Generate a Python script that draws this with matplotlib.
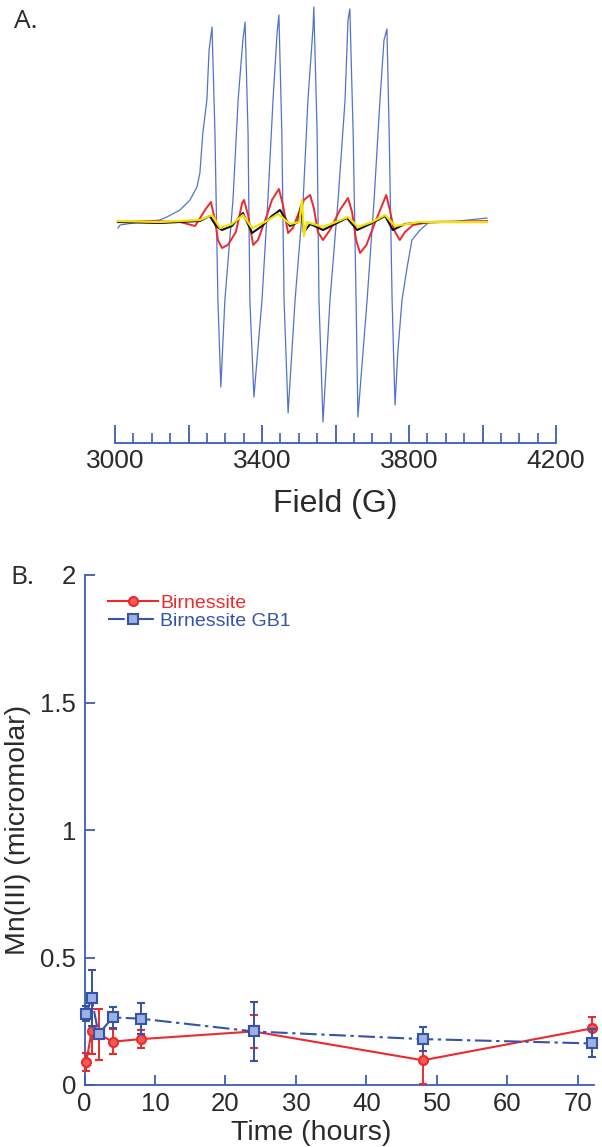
import matplotlib
matplotlib.use("Agg")
import matplotlib.pyplot as plt
from matplotlib.ticker import MultipleLocator

plt.rcParams['font.family'] = ['Liberation Sans', 'DejaVu Sans']

# ---------------- Panel A: EPR spectra (field in G, signal in a.u.) ----------------
field_blue = [3008, 3014, 3068, 3122, 3141, 3177, 3204, 3223, 3231, 3239, 3250, 3256,
              3264, 3272, 3280, 3288, 3299, 3321, 3335, 3348, 3354, 3362, 3367, 3378,
              3400, 3416, 3430, 3441, 3446, 3454, 3460, 3471, 3490, 3512, 3525, 3539,
              3541, 3550, 3555, 3566, 3585, 3607, 3626, 3634, 3639, 3648, 3656, 3661,
              3686, 3705, 3721, 3732, 3740, 3746, 3754, 3762, 3770, 3781, 3795, 3808,
              3830, 3852, 3912, 4012]
signal_blue = [-6, -3, 0, 2, 5, 12, 22, 35, 49, 89, 122, 172,
               195, 89, -78, -165, -78, 22, 122, 182, 200, 89, -78, -175,
               -78, 22, 122, 189, 207, 89, -78, -191, -78, 22, 122, 195,
               215, 89, -78, -200, -78, 22, 122, 202, 213, 89, -78, -195,
               -78, 22, 122, 182, 193, 89, -78, -183, -128, -78, -45, -18,
               -8, -1, 0, 4]

field_red = [3008, 3095, 3177, 3218, 3245, 3261, 3272, 3280, 3291, 3307, 3329, 3346,
             3351, 3362, 3376, 3389, 3411, 3427, 3446, 3457, 3471, 3484, 3503, 3514,
             3531, 3541, 3552, 3566, 3585, 3612, 3634, 3645, 3656, 3667, 3684, 3705,
             3727, 3738, 3748, 3759, 3775, 3789, 3811, 3857, 4012]
signal_red = [0, 1, 0, -4, 12, 20, 2, -18, -26, -23, -10, 19,
              22, 7, -23, -18, 4, 22, 33, 17, -11, -6, 12, 22,
              27, 14, -10, -18, -8, 12, 24, 10, -18, -31, -23, -3,
              17, 27, 12, -8, -18, -10, -3, 0, 1]

field_black = [3008, 3122, 3231, 3258, 3275, 3291, 3318, 3348, 3373, 3400, 3427, 3449,
               3476, 3498, 3506, 3514, 3531, 3566, 3599, 3631, 3659, 3694, 3735, 3756,
               3789, 3857, 4012]
signal_black = [0, -1, 1, 6, -4, -8, -4, 9, -11, -4, 6, 12,
                -4, 0, 16, -10, -2, -8, -2, 4, -8, -2, 6, -8,
                -2, 0, 0]

field_yellow = [3008, 3122, 3231, 3264, 3286, 3318, 3348, 3373, 3408, 3444, 3476, 3501,
                3509, 3514, 3522, 3566, 3601, 3634, 3661, 3699, 3735, 3762, 3830, 4012]
signal_yellow = [1, 0, 2, 7, -6, -2, 7, -6, 0, 8, -2, 0,
                 22, -14, 0, -5, 0, 5, -5, 0, 7, -4, 0, 0]

field_ticks_labeled = [3000, 3400, 3800, 4200]

# ---------------- Panel B: Mn(III) vs time ----------------
time_h = [0.25, 1, 2, 4, 8, 24, 48, 72]
birn = [0.09, 0.21, 0.20, 0.17, 0.18, 0.21, 0.097, 0.222]
birn_err = [0.035, 0.09, 0.10, 0.05, 0.035, 0.065, 0.095, 0.045]
gb1 = [0.28, 0.34, 0.20, 0.265, 0.26, 0.21, 0.18, 0.163]
gb1_err = [0.03, 0.11, 0.02, 0.04, 0.06, 0.115, 0.048, 0.055]
series_names = ["Birnessite", "Birnessite GB1"]

AXIS_BLUE = '#3d5cb4'
SPEC_BLUE = '#5273cc'
RED = '#ec2a2e'
DATA_BLUE = '#3553a8'
TEXT = '#2a2a2a'

fig = plt.figure(figsize=(6.02, 11.47), dpi=100)

# ---- Panel A ----
axA = fig.add_axes([115 / 602, 1 - 443 / 1147, 441 / 602, 443 / 1147])
axA.plot(field_blue, signal_blue, color=SPEC_BLUE, lw=0.9, zorder=2)
axA.plot(field_red, signal_red, color=RED, lw=1.4, zorder=3)
axA.plot(field_black, signal_black, color='#111111', lw=1.5, zorder=4)
axA.plot(field_yellow, signal_yellow, color='#f2e200', lw=1.6, zorder=5)
axA.set_xlim(3000, 4200)
axA.set_ylim(-221, 222)
for s in ['left', 'right', 'top']:
    axA.spines[s].set_visible(False)
axA.spines['bottom'].set_color(AXIS_BLUE)
axA.spines['bottom'].set_linewidth(1.3)
axA.set_yticks([])
axA.xaxis.set_major_locator(MultipleLocator(200))
axA.xaxis.set_minor_locator(MultipleLocator(50))
axA.xaxis.set_major_formatter(
    plt.FuncFormatter(lambda v, p: f"{int(round(v))}" if int(round(v)) in field_ticks_labeled else ""))
axA.tick_params(axis='x', which='major', direction='in', length=13, width=1.3,
                color=AXIS_BLUE, labelsize=19, labelcolor=TEXT, pad=4)
axA.tick_params(axis='x', which='minor', direction='in', length=7, width=1.2, color=AXIS_BLUE)
axA.set_xlabel("Field (G)", fontsize=23, color=TEXT, labelpad=12)
axA.patch.set_alpha(0)

fig.text(14 / 602, 1 - 22 / 1147, "A.", fontsize=19, color=TEXT, va='center', ha='left',
         family=['Open Sans', 'DejaVu Sans'])

# ---- Panel B ----
axB = fig.add_axes([84.5 / 602, 1 - 1085 / 1147, 509 / 602, 510 / 1147])
ebr = axB.errorbar(time_h, birn, yerr=birn_err, color=RED, lw=1.5, marker='o', ms=6.5,
                   mfc='#f25a5a', mec=RED, mew=1.5, capsize=3, capthick=1.3,
                   elinewidth=1.4, clip_on=False, zorder=3)
ebb = axB.errorbar(time_h, gb1, yerr=gb1_err, color=DATA_BLUE, lw=1.5, marker='s', ms=7,
                   mfc='#9fb0e2', mec=DATA_BLUE, mew=1.5, capsize=3, capthick=1.3,
                   elinewidth=1.4, clip_on=False, zorder=4,
                   linestyle=(0, (8, 2.2, 1.6, 2.2)))
for c in (ebr, ebb):
    for part in c.lines[1] + c.lines[2]:
        part.set_clip_on(False)

axB.set_xlim(0, 72.2)
axB.set_ylim(0, 2)
for s in ['right', 'top']:
    axB.spines[s].set_visible(False)
for s in ['left', 'bottom']:
    axB.spines[s].set_color(AXIS_BLUE)
    axB.spines[s].set_linewidth(1.3)
axB.xaxis.set_major_locator(MultipleLocator(10))
axB.yaxis.set_major_locator(MultipleLocator(0.5))
axB.yaxis.set_major_formatter(plt.FuncFormatter(lambda v, p: f"{v:g}"))
axB.tick_params(direction='in', length=7, width=1.3, color=AXIS_BLUE,
                labelsize=18.5, labelcolor=TEXT)
axB.tick_params(axis='x', pad=5)
axB.tick_params(axis='y', pad=6)
axB.patch.set_alpha(0)

fig.text(311 / 602, 1 - 1133 / 1147, "Time (hours)", fontsize=20.5, color=TEXT,
         ha='center', va='center')
fig.text(18 / 602, 1 - 830 / 1147, "Mn(III) (micromolar)", fontsize=20.5, color=TEXT,
         ha='center', va='center', rotation=90)
fig.text(10 / 602, 1 - 577 / 1147, "B.", fontsize=19, color=TEXT, va='center', ha='left',
         family=['Open Sans', 'DejaVu Sans'])

leg = axB.legend([ebr[0], ebb[0]], series_names, loc='upper left',
                 bbox_to_anchor=(0.046, 0.962), frameon=False, fontsize=14,
                 handlelength=2.6, handletextpad=0.1, labelspacing=0.02,
                 borderpad=0, borderaxespad=0, labelcolor='linecolor')

fig.savefig("out.png", dpi=100)
